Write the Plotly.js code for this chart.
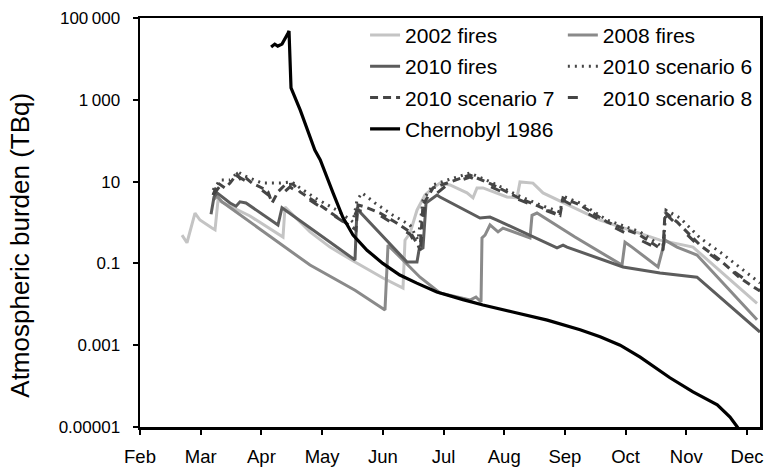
<!DOCTYPE html>
<html>
<head>
<meta charset="utf-8">
<script src="https://cdn.plot.ly/plotly-3.0.1.min.js"></script>
<style>html,body{margin:0;padding:0;background:#fff;}#chart{width:765px;height:467px;}</style>
</head>
<body>
<div id="chart"></div>
<script>
// Month index: 0 = Feb ... 10 = Dec
const months = ['Feb','Mar','Apr','May','Jun','Jul','Aug','Sep','Oct','Nov','Dec'];
const yTickVals = [1e-5, 1e-3, 0.1, 10, 1000, 1e5];
const yTickText = ['0.00001', '0.001', '0.1', '10', '1\u2009000', '100\u2009000'];
const yTitle = 'Atmospheric burden (TBq)';

const fires2002_x = [0.692, 0.774, 0.906, 0.988, 1.186, 1.236, 1.285, 1.812, 2.356, 2.389, 2.801, 3.130, 3.542, 4.003, 4.333, 4.366, 4.448, 4.563, 4.695, 4.827, 4.942, 5.107, 5.387, 5.486, 5.552, 5.651, 6.046, 6.211, 6.260, 6.474, 6.639, 7.578, 8.567, 9.110, 10.165];
const fires2002_y = [0.49, 0.32, 1.7, 1.15, 0.73, 0.66, 3.5, 1.44, 0.44, 2.4, 0.59, 0.25, 0.108, 0.044, 0.025, 0.37, 0.55, 2.0, 4.7, 7.0, 9.2, 8.3, 5.3, 4.0, 7.0, 7.0, 4.2, 4.0, 9.8, 9.2, 5.3, 1.15, 0.37, 0.25, 0.0105];

const fires2008_x = [1.203, 1.269, 1.351, 2.010, 2.801, 3.542, 4.036, 4.086, 4.283, 4.613, 4.942, 5.437, 5.535, 5.618, 5.634, 5.684, 5.766, 5.898, 5.980, 6.425, 6.458, 6.540, 7.166, 7.743, 7.941, 7.990, 8.105, 8.534, 8.649, 8.847, 9.176, 10.165];
const fires2008_y = [3.5, 4.4, 3.2, 0.62, 0.091, 0.022, 0.0073, 0.28, 0.143, 0.046, 0.0189, 0.0127, 0.0151, 0.0114, 0.42, 0.49, 0.87, 0.59, 0.73, 0.42, 1.5, 1.7, 0.44, 0.135, 0.091, 0.33, 0.25, 0.082, 0.37, 0.25, 0.16, 0.0042];

const fires2010_x = [1.170, 1.219, 1.269, 1.483, 1.582, 1.647, 1.746, 2.273, 2.339, 3.542, 3.575, 3.624, 4.399, 4.563, 4.596, 4.662, 4.712, 4.893, 4.942, 5.601, 5.766, 5.881, 6.870, 6.969, 7.035, 7.957, 8.567, 9.176, 10.214];
const fires2010_y = [1.6, 4.2, 5.3, 3.0, 2.5, 3.2, 3.0, 0.87, 2.3, 0.121, 2.3, 1.8, 0.108, 0.108, 0.21, 0.24, 3.0, 4.7, 4.2, 1.29, 1.36, 1.15, 0.24, 0.28, 0.25, 0.082, 0.058, 0.046, 0.0021];

const scen6_x = [1.203, 1.318, 1.483, 1.614, 1.730, 2.010, 2.306, 2.504, 2.636, 2.883, 3.245, 3.509, 3.575, 3.657, 3.871, 4.168, 4.448, 4.580, 4.662, 4.827, 5.058, 5.437, 5.815, 6.211, 6.590, 6.919, 6.969, 7.249, 7.694, 8.237, 8.616, 8.666, 8.896, 9.226, 9.555, 9.885, 10.214];
const scen6_y = [6.2, 10.9, 10.9, 17.2, 13.7, 9.2, 9.2, 9.8, 7.0, 4.0, 2.0, 1.03, 3.5, 5.3, 3.0, 1.5, 0.87, 0.37, 3.5, 8.3, 10.9, 16.2, 9.2, 4.7, 2.7, 1.8, 4.4, 3.0, 1.15, 0.59, 0.25, 2.0, 1.29, 0.42, 0.19, 0.077, 0.033];

const scen7_x = [1.203, 1.285, 1.400, 1.483, 1.598, 1.664, 1.746, 1.845, 2.010, 2.109, 2.175, 2.273, 2.389, 2.521, 2.636, 2.916, 3.245, 3.509, 3.558, 3.591, 3.707, 3.954, 4.201, 4.448, 4.580, 4.613, 4.662, 4.827, 5.058, 5.437, 5.815, 6.211, 6.590, 6.919, 6.969, 7.249, 7.694, 8.237, 8.616, 8.649, 8.847, 9.226, 9.555, 9.885, 10.214];
const scen7_y = [4.7, 9.2, 7.0, 9.2, 15.3, 10.9, 12.2, 9.2, 7.0, 5.6, 3.0, 5.6, 8.3, 8.7, 5.6, 3.0, 1.36, 0.73, 0.66, 2.7, 2.4, 1.7, 1.03, 0.59, 0.28, 0.21, 2.7, 7.0, 9.2, 14.5, 8.3, 4.2, 2.4, 1.5, 4.0, 2.7, 1.03, 0.49, 0.21, 1.8, 1.03, 0.28, 0.121, 0.044, 0.021];

const scen8_x = [1.203, 1.318, 1.598, 2.010, 2.224, 2.471, 2.916, 3.460, 3.575, 3.954, 4.448, 4.613, 4.695, 5.058, 5.437, 6.211, 6.919, 6.969, 7.694, 8.616, 8.666, 9.226, 10.214];
const scen8_y = [4.7, 7.8, 13.7, 6.2, 3.5, 7.4, 2.7, 0.82, 2.0, 1.5, 0.52, 0.19, 3.0, 8.3, 12.9, 3.8, 1.44, 3.5, 0.92, 0.20, 1.6, 0.25, 0.022];

const cher_x = [2.16, 2.22, 2.27, 2.34, 2.44, 2.455, 2.488, 2.64, 2.88, 2.97, 3.18, 3.34, 3.51, 3.74, 4.0, 4.28, 4.56, 4.89, 5.32, 5.65, 6.14, 6.71, 7.25, 7.58, 7.91, 8.24, 8.73, 9.11, 9.51, 9.72, 9.84, 9.88];
const cher_y = [19500, 23000, 20600, 23000, 43000, 48000, 1950, 560, 59, 34, 5.3, 1.36, 0.49, 0.21, 0.10, 0.052, 0.033, 0.020, 0.013, 0.0096, 0.0065, 0.0041, 0.0024, 0.0016, 0.001, 0.00051, 0.00016, 7.2e-5, 3.5e-5, 1.75e-5, 1.0e-5, 0.8e-5];

function tr(name, x, y, color, dash, legend, width) {
  return {
    type: 'scatter', mode: 'lines', name: name, x: x, y: y,
    line: {color: color, width: width || 3, dash: dash || 'solid'},
    legend: legend, legendgroup: name, hoverinfo: 'skip'
  };
}

const data = [
  tr('2002 fires', fires2002_x, fires2002_y, '#c4c4c4', 'solid', 'legend'),
  tr('2008 fires', fires2008_x, fires2008_y, '#8a8a8a', 'solid', 'legend2'),
  tr('2010 fires', fires2010_x, fires2010_y, '#5c5c5c', 'solid', 'legend'),
  tr('2010 scenario 6', scen6_x, scen6_y, '#454545', '2px,5px', 'legend2'),
  tr('2010 scenario 7', scen7_x, scen7_y, '#454545', '8px,5px', 'legend'),
  tr('2010 scenario 8', scen8_x, scen8_y, '#454545', '10px,20px', 'legend2'),
  tr('Chernobyl 1986', cher_x, cher_y, '#000000', 'solid', 'legend', 3.2)
];

const fontFam = '"Liberation Sans", Arial, Helvetica, sans-serif';
const layout = {
  width: 765, height: 467,
  margin: {l: 140, r: 5, t: 18, b: 40},
  paper_bgcolor: '#fff', plot_bgcolor: '#fff',
  font: {family: fontFam, color: '#000', size: 18},
  showlegend: true,
  xaxis: {
    range: [0, 10.214], tickvals: months.map((m, i) => i), ticktext: months,
    showgrid: false, zeroline: false, showline: true, linecolor: '#000', linewidth: 2.5, mirror: true,
    ticks: 'outside', ticklen: 5, tickwidth: 2, tickcolor: '#000',
    tickfont: {size: 18.5}, ticklabelstandoff: 6, fixedrange: true
  },
  yaxis: {
    type: 'log', range: [-5, 5], tickvals: yTickVals, ticktext: yTickText,
    showgrid: false, zeroline: false, showline: true, linecolor: '#000', linewidth: 2.5, mirror: true,
    ticks: 'outside', ticklen: 5, tickwidth: 2, tickcolor: '#000',
    tickfont: {size: 17}, ticklabelstandoff: 9,
    fixedrange: true
  },
  annotations: [{
    text: yTitle, xref: 'paper', yref: 'paper', x: -0.194, y: 0.445,
    xanchor: 'center', yanchor: 'middle', textangle: -90, showarrow: false,
    font: {size: 26, family: fontFam, color: '#000'}
  }],
  legend: {x: 0.363, y: 1.008, xanchor: 'left', yanchor: 'top', bgcolor: 'rgba(0,0,0,0)',
           font: {size: 21}, tracegroupgap: 1, traceorder: 'grouped'},
  legend2: {x: 0.682, y: 1.008, xanchor: 'left', yanchor: 'top', bgcolor: 'rgba(0,0,0,0)',
           font: {size: 21}, tracegroupgap: 1, traceorder: 'grouped'}
};

Plotly.newPlot('chart', data, layout, {displayModeBar: false, staticPlot: true});
</script>
</body>
</html>
